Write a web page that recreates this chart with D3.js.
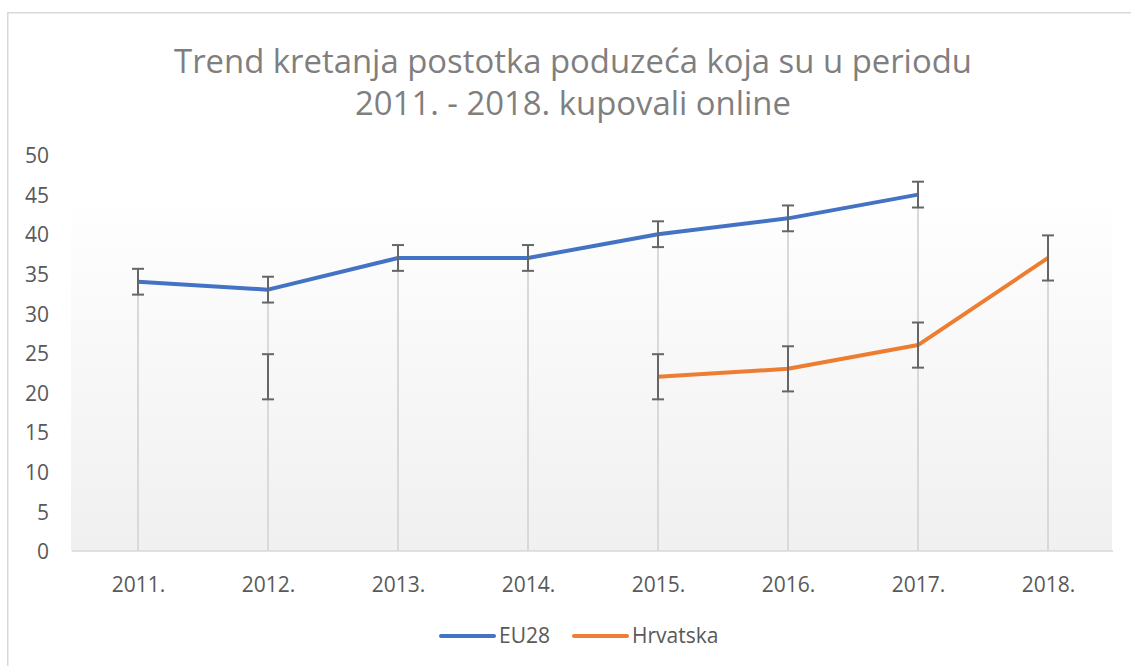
<!DOCTYPE html>
<html>
<head>
<meta charset="utf-8">
<script src="https://cdn.jsdelivr.net/npm/d3@7"></script>
<style>
  html, body { margin: 0; padding: 0; background: #ffffff; }
  svg { display: block; font-family: "Open Sans", "Noto Sans", sans-serif; }
</style>
</head>
<body>
<svg id="chart" width="1131" height="666"></svg>
<script>
// ---- data ----
const categories = ["2011.", "2012.", "2013.", "2014.", "2015.", "2016.", "2017.", "2018."];
const eu28 = [34, 33, 37, 37, 40, 42, 45, null];
const hrvatska = [null, 22, null, null, 22, 23, 26, 37];
const eu28Error = [1.63, 1.63, 1.63, 1.63, 1.63, 1.63, 1.63, null];
const hrvatskaError = [null, 2.85, null, null, 2.85, 2.85, 2.85, 2.85];
const yTicks = [0, 5, 10, 15, 20, 25, 30, 35, 40, 45, 50];
const seriesNames = ["EU28", "Hrvatska"];
const titleLines = ["Trend kretanja postotka poduzeća koja su u periodu", "2011. - 2018. kupovali online"];

// ---- layout ----
const W = 1131, H = 666;
const plot = { left: 73, right: 1113, top: 155, bottom: 551 };
const colors = ["#4472c4", "#ed7d31"];

const svg = d3.select("#chart");

// outer chart border
svg.append("rect")
  .attr("x", 7.75).attr("y", 12.75)
  .attr("width", W + 50).attr("height", H + 50)
  .attr("fill", "#ffffff")
  .attr("stroke", "#d9d9d9").attr("stroke-width", 1.5);

// gradient plot background
const defs = svg.append("defs");
const grad = defs.append("linearGradient").attr("id", "bg")
  .attr("x1", 0).attr("y1", 0).attr("x2", 0).attr("y2", 1);
grad.append("stop").attr("offset", "0%").attr("stop-color", "#fefefe");
grad.append("stop").attr("offset", "100%").attr("stop-color", "#f0f0f0");

svg.append("rect")
  .attr("x", 71).attr("y", 209)
  .attr("width", 1112 - 71).attr("height", plot.bottom - 209)
  .attr("fill", "url(#bg)");

const x = d3.scalePoint().domain(categories).range([plot.left, plot.right]).padding(0.5);
const y = d3.scaleLinear().domain([0, 50]).range([plot.bottom, plot.top]);

// title
const title = svg.append("g").attr("fill", "#7f7f7f");
const t1 = title.append("text").attr("x", 573).attr("y", 73)
  .attr("text-anchor", "middle").attr("font-size", 33).text(titleLines[0]);
const len = t1.node().getComputedTextLength();
const fs = 33 * 798 / len;
t1.attr("font-size", fs);
title.append("text").attr("x", 573).attr("y", 115)
  .attr("text-anchor", "middle").attr("font-size", fs).text(titleLines[1]);

// y axis (labels only)
const yAxis = d3.axisLeft(y).tickValues(yTicks).tickSize(0).tickPadding(0);
const gy = svg.append("g").attr("transform", "translate(49,1)").call(yAxis);
gy.select(".domain").remove();
gy.selectAll("text").attr("font-size", 21).attr("fill", "#595959")
  .attr("font-family", "Open Sans, sans-serif");

// x axis
const xAxis = d3.axisBottom(x).tickSize(0).tickPadding(0);
const gx = svg.append("g").attr("transform", `translate(0,${plot.bottom})`).call(xAxis);
gx.select(".domain").attr("d", `M${plot.left - 1},0H${plot.right}`)
  .attr("stroke", "#d9d9d9").attr("stroke-width", 1.5);
gx.selectAll("text").attr("font-size", 21).attr("fill", "#595959")
  .attr("font-family", "Open Sans, sans-serif")
  .attr("dy", null).attr("y", 41);

// drop lines
const tops = categories.map((c, i) => {
  const vals = [eu28[i], hrvatska[i]].filter(v => v != null);
  return vals.length ? d3.max(vals) : null;
});
svg.append("g").selectAll("line").data(categories).join("line")
  .attr("x1", d => x(d)).attr("x2", d => x(d))
  .attr("y1", (d, i) => y(tops[i])).attr("y2", plot.bottom)
  .attr("stroke", "#d9d9d9").attr("stroke-width", 2);

// lines
const series = [eu28, hrvatska];
const errors = [eu28Error, hrvatskaError];
const line = d3.line()
  .defined(d => d.v != null)
  .x(d => x(d.c)).y(d => y(d.v));
series.forEach((s, k) => {
  const pts = categories.map((c, i) => ({ c, v: s[i] }));
  svg.append("path").datum(pts)
    .attr("d", line)
    .attr("fill", "none")
    .attr("stroke", colors[k]).attr("stroke-width", 4)
    .attr("stroke-linejoin", "round").attr("stroke-linecap", "butt");
});

// error bars
series.forEach((s, k) => {
  const pts = categories.map((c, i) => ({ c, v: s[i], e: errors[k][i] }))
    .filter(d => d.v != null && d.e != null);
  const g = svg.append("g").attr("stroke", "#666666").attr("stroke-width", 2);
  pts.forEach(d => {
    const cx = x(d.c);
    const yt = y(d.v + d.e), yb = y(d.v - d.e);
    g.append("line").attr("x1", cx).attr("x2", cx).attr("y1", yt).attr("y2", yb);
    g.append("line").attr("x1", cx - 6).attr("x2", cx + 6).attr("y1", yt).attr("y2", yt);
    g.append("line").attr("x1", cx - 6).attr("x2", cx + 6).attr("y1", yb).attr("y2", yb);
  });
});

// legend
const legendItems = [
  { name: seriesNames[0], x0: 441, color: colors[0] },
  { name: seriesNames[1], x0: 574, color: colors[1] }
];
const lg = svg.append("g");
legendItems.forEach(it => {
  lg.append("line").attr("x1", it.x0).attr("x2", it.x0 + 53)
    .attr("y1", 636).attr("y2", 636)
    .attr("stroke", it.color).attr("stroke-width", 4).attr("stroke-linecap", "round");
  lg.append("text").attr("x", it.x0 + 58).attr("y", 636).attr("dy", "0.35em")
    .attr("font-size", 21).attr("fill", "#595959").text(it.name);
});
</script>
</body>
</html>
